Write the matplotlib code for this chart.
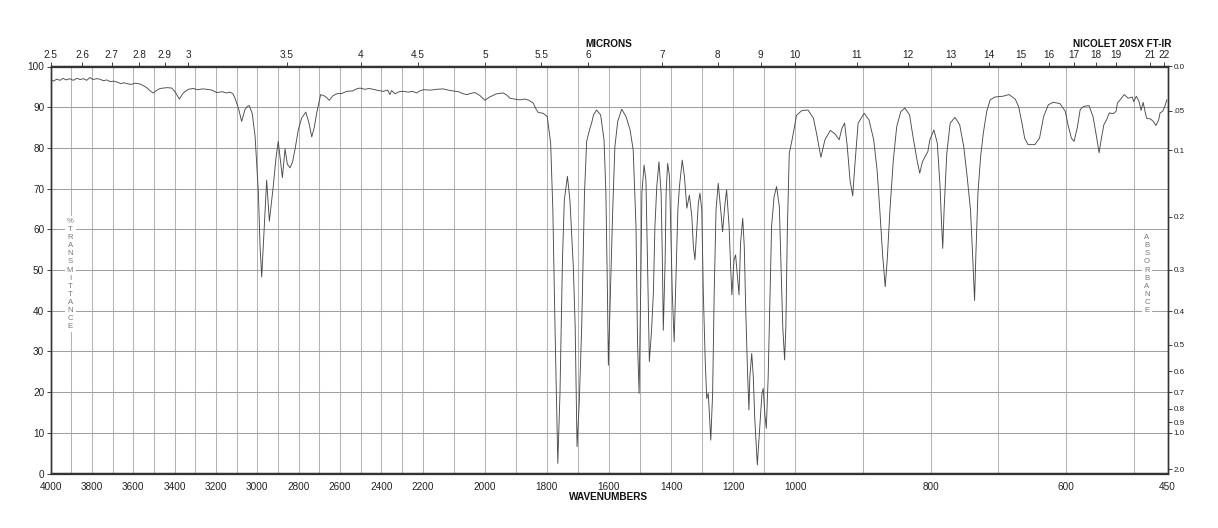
import numpy as np
import matplotlib
matplotlib.use("Agg")
import matplotlib.pyplot as plt
from matplotlib.ticker import NullLocator

plt.rcParams['font.family'] = ['Liberation Sans', 'DejaVu Sans']

# ---- data ----
wavenumber = [
    4000, 3985, 3970, 3954, 3940, 3925, 3906, 3890, 3872, 3857, 3840, 3825, 3809, 3795, 3778, 3761,
    3745, 3728, 3712, 3696, 3680, 3660, 3645, 3632, 3610, 3590, 3567, 3548, 3535, 3518, 3503, 3485,
    3470, 3455, 3435, 3414, 3398, 3377, 3358, 3334, 3310, 3290, 3265, 3245, 3220, 3196, 3170, 3150,
    3132, 3118, 3108, 3090, 3076, 3060, 3048, 3039, 3025, 3011, 2995, 2987, 2979, 2968, 2955, 2942,
    2923, 2910, 2899, 2879, 2866, 2855, 2842, 2830, 2818, 2802, 2786, 2766, 2750, 2737, 2725, 2713,
    2694, 2673, 2652, 2635, 2616, 2590, 2568, 2540, 2520, 2504, 2480, 2460, 2440, 2415, 2391, 2370,
    2359, 2351, 2335, 2315, 2295, 2270, 2250, 2230, 2215, 2198, 2175, 2155, 2135, 2112, 2085, 2070,
    2058, 2045, 2032, 2015, 2000, 1985, 1962, 1941, 1930, 1919, 1905, 1887, 1871, 1858, 1844, 1835,
    1828, 1812, 1799, 1788, 1781, 1774, 1765, 1758, 1750, 1744, 1734, 1726, 1715, 1709, 1703, 1696,
    1688, 1679, 1672, 1663, 1656, 1650, 1640, 1627, 1616, 1610, 1605, 1602, 1597, 1588, 1581, 1572,
    1559, 1545, 1532, 1522, 1513, 1508, 1503, 1498, 1494, 1487, 1481, 1476, 1470, 1463, 1457, 1452,
    1446, 1439, 1432, 1428, 1425, 1419, 1416, 1411, 1405, 1401, 1396, 1390, 1384, 1378, 1373, 1364,
    1357, 1349, 1341, 1333, 1328, 1323, 1318, 1312, 1307, 1301, 1296, 1290, 1285, 1280, 1272, 1266,
    1261, 1255, 1248, 1240, 1234, 1226, 1221, 1213, 1208, 1204, 1197, 1192, 1187, 1181, 1176, 1169,
    1164, 1159, 1153, 1149, 1146, 1140, 1135, 1130, 1122, 1114, 1107, 1103, 1098, 1093, 1087, 1081,
    1076, 1068, 1060, 1051, 1046, 1040, 1034, 1030, 1025, 1019, 1011, 1006, 998, 990, 981, 973,
    968, 962, 956, 948, 941, 935, 931, 927, 923, 919, 915, 912, 907, 898, 891, 884,
    879, 875, 871, 867, 864, 860, 855, 850, 844, 838, 831, 826, 820, 816, 812, 808,
    804, 801, 795, 790, 786, 784, 782, 780, 776, 771, 764, 757, 751, 746, 741, 738,
    735, 733, 730, 726, 722, 717, 712, 705, 693, 684, 675, 670, 665, 661, 656, 646,
    639, 633, 626, 619, 609, 601, 597, 592, 588, 583, 579, 574, 566, 560, 555, 551,
    548, 544, 540, 536, 530, 526, 524, 520, 514, 508, 502, 500, 496, 492, 489, 486,
    481, 475, 471, 467, 463, 461, 457, 454, 451,
]
transmittance = [
    96.8, 96.4, 96.9, 96.6, 97.1, 96.7, 97.0, 96.6, 97.1, 96.8, 97.0, 96.6, 97.3, 96.8, 97.0, 96.9,
    96.5, 96.7, 96.3, 96.4, 96.2, 95.8, 96.0, 95.8, 95.6, 95.9, 95.7, 95.2, 94.8, 94.0, 93.5, 94.2,
    94.6, 94.7, 94.8, 94.7, 93.8, 92.0, 93.5, 94.4, 94.6, 94.3, 94.5, 94.4, 94.2, 93.6, 93.8, 93.5,
    93.7, 93.3, 92.2, 89.5, 86.5, 89.4, 90.2, 90.4, 88.5, 82.9, 69.0, 55.9, 48.3, 59.2, 72.1, 62.0,
    70.6, 77.5, 81.6, 72.7, 79.8, 76.0, 75.1, 76.5, 79.6, 84.5, 87.3, 88.8, 86.0, 82.7, 85.0, 88.6,
    93.1, 92.7, 91.7, 92.8, 93.3, 93.4, 93.9, 94.0, 94.5, 94.7, 94.4, 94.6, 94.4, 94.1, 93.9, 94.2,
    93.1, 94.1, 93.3, 93.8, 93.9, 93.7, 93.9, 93.5, 94.0, 94.3, 94.2, 94.4, 94.5, 94.1, 93.8, 93.3,
    93.1, 93.4, 93.6, 92.8, 91.7, 92.5, 93.3, 93.5, 93.0, 92.2, 92.0, 91.8, 92.0, 91.7, 91.0, 89.5,
    88.7, 88.5, 87.7, 81.1, 64.8, 36.0, 2.5, 19.7, 52.5, 67.2, 73.0, 67.2, 50.8, 36.0, 6.6, 17.2,
    36.0, 68.9, 81.6, 84.4, 86.1, 88.1, 89.3, 88.1, 82.0, 68.9, 44.3, 26.6, 40.2, 64.8, 80.3, 86.5,
    89.5, 87.7, 84.4, 79.5, 60.7, 32.0, 19.7, 44.3, 68.9, 75.8, 72.1, 52.5, 27.5, 35.0, 44.3, 60.7,
    70.5, 76.6, 68.9, 52.5, 35.2, 52.5, 68.9, 76.2, 73.0, 60.7, 44.3, 32.4, 48.4, 64.8, 70.5, 77.0,
    73.0, 65.2, 68.4, 63.1, 55.7, 52.5, 59.0, 66.4, 68.9, 64.8, 44.3, 27.9, 18.4, 19.7, 8.2, 19.7,
    44.3, 64.8, 71.3, 64.8, 59.4, 66.4, 69.7, 60.7, 50.8, 43.9, 52.5, 53.7, 49.2, 43.9, 56.6, 62.7,
    55.7, 39.3, 23.8, 15.6, 23.8, 29.5, 23.8, 13.1, 2.1, 11.5, 19.7, 20.9, 14.8, 11.1, 23.8, 44.3,
    60.7, 68.0, 70.5, 65.6, 52.5, 36.0, 27.9, 36.0, 60.7, 78.7, 81.6, 83.6, 88.0, 89.2, 89.3, 87.3,
    83.2, 77.7, 82.0, 84.3, 83.4, 82.0, 84.8, 86.1, 80.3, 72.1, 68.2, 75.4, 86.1, 88.5, 86.9, 82.0,
    74.6, 64.8, 54.1, 45.9, 52.5, 64.8, 77.0, 85.2, 88.9, 89.8, 88.1, 82.8, 77.0, 73.8, 76.6, 77.9,
    79.1, 82.0, 84.4, 81.1, 70.5, 62.3, 55.3, 64.8, 78.7, 86.1, 87.5, 85.7, 80.3, 73.0, 64.8, 54.1,
    42.5, 54.1, 68.9, 78.0, 83.7, 89.0, 91.8, 92.5, 92.7, 93.1, 92.0, 90.2, 86.1, 82.4, 80.8, 80.8,
    82.4, 87.7, 90.6, 91.2, 90.9, 89.0, 85.7, 82.4, 81.6, 85.2, 89.4, 90.2, 90.4, 87.7, 82.9, 78.8,
    82.0, 85.7, 86.9, 88.6, 88.4, 89.0, 91.0, 91.8, 93.1, 92.2, 92.5, 91.4, 92.7, 91.4, 89.2, 91.2,
    87.3, 87.1, 86.5, 85.5, 86.9, 88.6, 89.0, 90.2, 91.8,
]

wn_tick_values = [4000, 3800, 3600, 3400, 3200, 3000, 2800, 2600, 2400, 2200, 2000,
                  1800, 1600, 1400, 1200, 1000, 800, 600, 450]
wn_grid_values = list(range(500, 4000, 100))
micron_labels = ['2.5', '2.6', '2.7', '2.8', '2.9', '3', '3.5', '4', '4.5', '5', '5.5', '6',
                 '7', '8', '9', '10', '11', '12', '13', '14', '15', '16', '17', '18', '19', '21', '22']
absorbance_values = [0.0, 0.05, 0.1, 0.2, 0.3, 0.4, 0.5, 0.6, 0.7, 0.8, 0.9, 1.0, 2.0]
absorbance_labels = ['0.0', '.05', '0.1', '0.2', '0.3', '0.4', '0.5', '0.6', '0.7', '0.8', '0.9', '1.0', '2.0']
transmittance_ticks = list(range(0, 101, 10))

# piecewise-linear wavenumber scale (three equal-width segments)
seg_wn = [450, 1000, 2200, 4000]
seg_u = [0, 1, 2, 3]


def fwd(w):
    return np.interp(np.asarray(w, dtype=float), seg_wn, seg_u)


def inv(u):
    return np.interp(np.asarray(u, dtype=float), seg_u, seg_wn)


W, H = 1218, 528
fig = plt.figure(figsize=(W / 100, H / 100), dpi=100)
left, right, top, bottom = 50.5, 1167.5, 66.5, 473.5
ax = fig.add_axes([left / W, 1 - bottom / H, (right - left) / W, (bottom - top) / H])

line_col = '#4a4a4a'
grid_col = '#b4b4b4'
hgrid_col = '#a0a0a0'
spine_col = '#333333'

ax.set_xscale('function', functions=(fwd, inv))
ax.plot(wavenumber, transmittance, color=line_col, lw=0.65, zorder=4)
ax.set_xlim(4000, 450)
ax.set_ylim(0, 100)

# top micron axis
axt = ax.twiny()
axt.set_xscale('function', functions=(fwd, inv))
axt.set_xlim(4000, 450)
axt.set_xticks([10000.0 / float(m) for m in micron_labels])
axt.set_xticklabels(micron_labels)
axt.xaxis.set_minor_locator(NullLocator())
axt.tick_params(axis='x', direction='out', length=3, width=0.6, pad=1.5, labelsize=7.2,
                colors='#222222')

# right absorbance axis
axr = ax.twinx()
axr.set_ylim(0, 100)
axr.set_yticks([100.0 * 10 ** (-a) for a in absorbance_values])
axr.set_yticklabels(absorbance_labels)
axr.yaxis.set_minor_locator(NullLocator())
axr.tick_params(axis='y', direction='out', length=3, width=0.6, pad=1.5, labelsize=5.8,
                colors='#222222')

# main axis ticks & grid
ax.set_xticks(wn_tick_values)
ax.set_xticklabels([str(v) for v in wn_tick_values])
ax.set_xticks(wn_grid_values, minor=True)
ax.set_xticklabels([], minor=True)
ax.set_yticks(transmittance_ticks)
ax.set_yticklabels([str(v) for v in transmittance_ticks])

ax.grid(True, which='both', axis='x', color=grid_col, lw=0.75)
ax.grid(True, which='major', axis='y', color=hgrid_col, lw=0.75)
ax.set_axisbelow(True)

ax.tick_params(axis='x', which='both', length=0, pad=6, labelsize=7.2, colors='#222222')
ax.tick_params(axis='y', which='both', direction='out', length=3, width=0.6, pad=1.5,
               labelsize=7.2, colors='#222222')

for a in (ax, axt, axr):
    for s in a.spines.values():
        s.set_color(spine_col)
        s.set_linewidth(0.9)

# stacked axis captions
ax.text(0.0175, 0.49, '\n'.join('%TRANSMITTANCE'), transform=ax.transAxes, ha='center',
        va='center', fontsize=5.6, color='#777777', linespacing=1.22, zorder=3,
        bbox=dict(facecolor='white', edgecolor='none', pad=1.5))
ax.text(0.9816, 0.49, '\n'.join('ABSORBANCE'), transform=ax.transAxes, ha='center',
        va='center', fontsize=5.6, color='#777777', linespacing=1.22, zorder=3,
        bbox=dict(facecolor='white', edgecolor='none', pad=1.5))

fig.text(609 / W, 1 - 44 / H, 'MICRONS', ha='center', va='center', fontsize=7.2,
         fontweight='bold', color='#111111')
fig.text(1122 / W, 1 - 44 / H, 'NICOLET 20SX FT-IR', ha='center', va='center', fontsize=7.2,
         fontweight='bold', color='#111111')
fig.text(609 / W, 1 - 497 / H, 'WAVENUMBERS', ha='center', va='center', fontsize=7.2,
         fontweight='bold', color='#111111')

fig.savefig('out.png', dpi=100)
